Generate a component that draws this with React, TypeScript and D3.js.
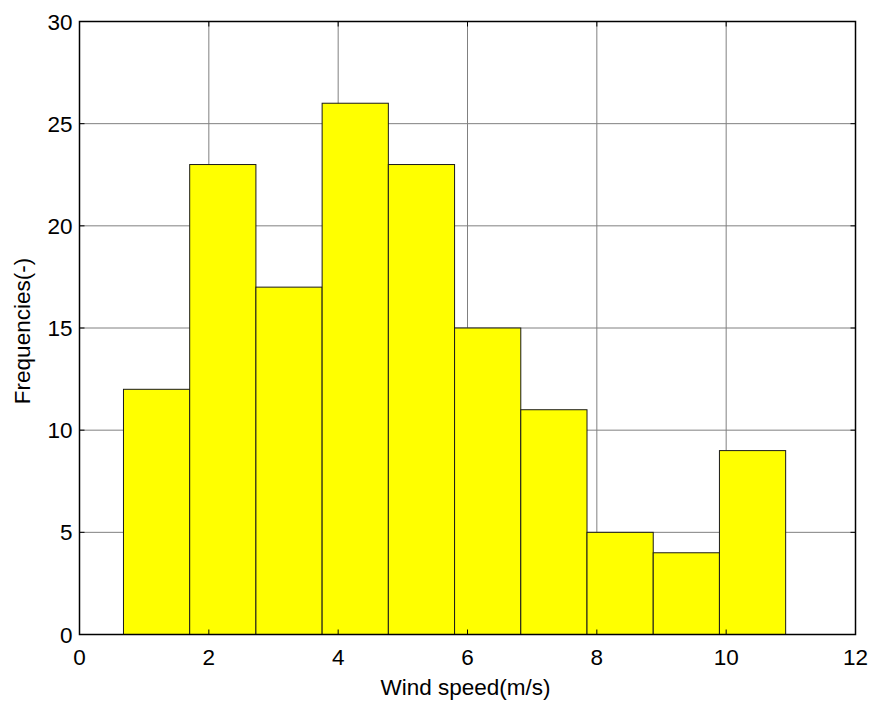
import React from "react";
import * as d3 from "d3";

const binLo = 0.68;
const binHi = 10.92;
const frequencies = [12, 23, 17, 26, 23, 15, 11, 5, 4, 9];
const xTicks = [0, 2, 4, 6, 8, 10, 12];
const yTicks = [0, 5, 10, 15, 20, 25, 30];
const xLabel = "Wind speed(m/s)";
const yLabel = "Frequencies(-)";

export default function App() {
  const W = 873, H = 704;
  const m = { left: 79.5, right: 855.5, top: 21.5, bottom: 634.5 };
  const x = d3.scaleLinear().domain([0, 12]).range([m.left, m.right]);
  const y = d3.scaleLinear().domain([0, 30]).range([m.bottom, m.top]);
  const n = frequencies.length;
  const w = (binHi - binLo) / n;
  const font = "Arial, 'Liberation Sans', sans-serif";
  const fs = 22.5;
  const tl = 5;
  return (
    <svg width={W} height={H} style={{ position: "absolute", left: 0, top: 0, background: "#fff" }}>
      <rect x={0} y={0} width={W} height={H} fill="#fff" />
      {xTicks.map((t) => (
        <line key={"gx" + t} x1={x(t)} x2={x(t)} y1={m.top} y2={m.bottom} stroke="#808080" strokeWidth={1} />
      ))}
      {yTicks.map((t) => (
        <line key={"gy" + t} x1={m.left} x2={m.right} y1={y(t)} y2={y(t)} stroke="#808080" strokeWidth={1} />
      ))}
      {frequencies.map((f, i) => {
        const x0 = x(binLo + i * w);
        const x1 = x(binLo + (i + 1) * w);
        return (
          <rect key={i} x={x0} y={y(f)} width={x1 - x0} height={y(0) - y(f)} fill="#ffff00" stroke="#1a1a1a" strokeWidth={1} />
        );
      })}
      <rect x={m.left} y={m.top} width={m.right - m.left} height={m.bottom - m.top} fill="none" stroke="#000" strokeWidth={1.5} />
      {xTicks.map((t) => (
        <g key={"tx" + t}>
          <line x1={x(t)} x2={x(t)} y1={m.bottom} y2={m.bottom - tl} stroke="#000" />
          <line x1={x(t)} x2={x(t)} y1={m.top} y2={m.top + tl} stroke="#000" />
          <text x={x(t)} y={665} textAnchor="middle" fontFamily={font} fontSize={fs} fill="#000">{t}</text>
        </g>
      ))}
      {yTicks.map((t) => (
        <g key={"ty" + t}>
          <line x1={m.left} x2={m.left + tl} y1={y(t)} y2={y(t)} stroke="#000" />
          <line x1={m.right} x2={m.right - tl} y1={y(t)} y2={y(t)} stroke="#000" />
          <text x={m.left - 7} y={y(t) + 8} textAnchor="end" fontFamily={font} fontSize={fs} fill="#000">{t}</text>
        </g>
      ))}
      <text x={465.5} y={695} textAnchor="middle" fontFamily={font} fontSize={fs} fill="#000">{xLabel}</text>
      <text transform={`translate(30, 331) rotate(-90)`} textAnchor="middle" fontFamily={font} fontSize={fs} fill="#000">{yLabel}</text>
    </svg>
  );
}
